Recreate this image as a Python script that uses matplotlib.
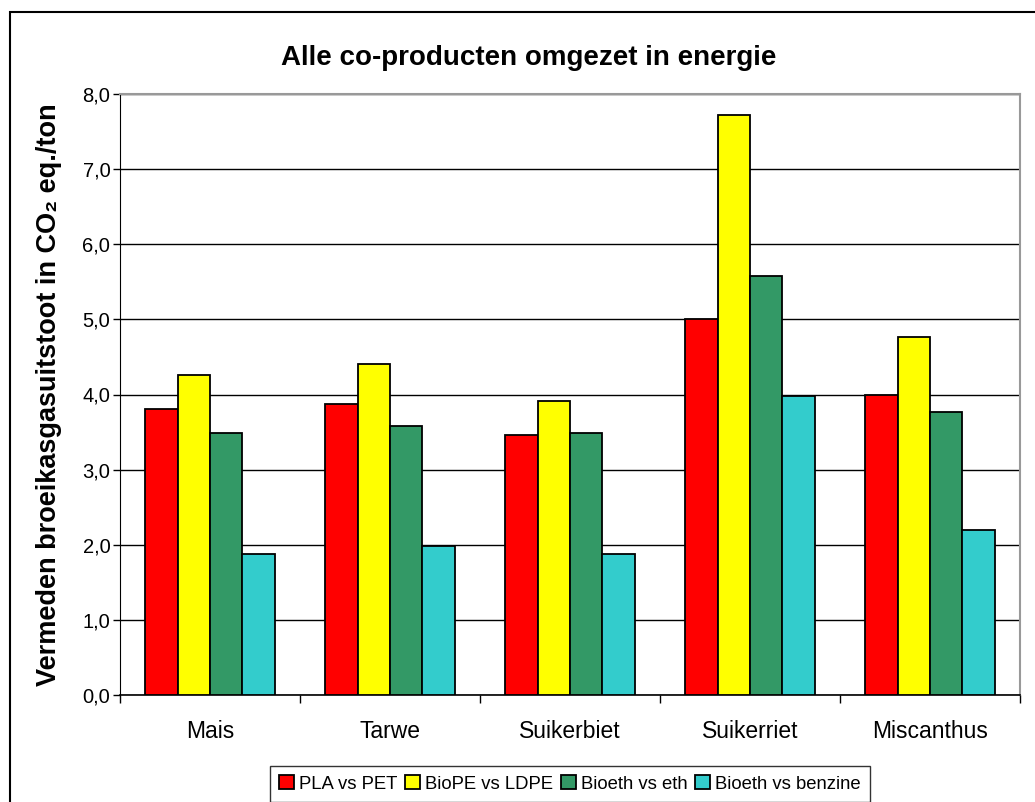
import numpy as np
import matplotlib.pyplot as plt
from matplotlib.patches import Rectangle

plt.rcParams['font.family'] = ['Liberation Sans', 'DejaVu Sans']

categories = ['Mais', 'Tarwe', 'Suikerbiet', 'Suikerriet', 'Miscanthus']
series_names = ['PLA vs PET', 'BioPE vs LDPE', 'Bioeth vs eth', 'Bioeth vs benzine']
pla_vs_pet = [3.81, 3.88, 3.46, 5.01, 4.00]
biope_vs_ldpe = [4.26, 4.40, 3.91, 7.72, 4.76]
bioeth_vs_eth = [3.49, 3.58, 3.49, 5.58, 3.77]
bioeth_vs_benzine = [1.88, 1.98, 1.88, 3.98, 2.19]
colors = ['#ff0000', '#ffff00', '#339966', '#33cccc']

series = [pla_vs_pet, biope_vs_ldpe, bioeth_vs_eth, bioeth_vs_benzine]

fig = plt.figure(figsize=(10.35, 8.02), dpi=100)
ax = fig.add_axes([120/1035, 1-695/802, 900/1035, 601/802])

x = np.arange(len(categories))
w = 0.72 / 4
for i, (vals, name, c) in enumerate(zip(series, series_names, colors)):
    ax.bar(x - 0.36 + w*(i + 0.5), vals, w, color=c, edgecolor='black',
           linewidth=1.3, label=name, zorder=3)

ax.set_xlim(-0.5, len(categories) - 0.5)
ax.set_ylim(0, 8)
ax.set_yticks(np.arange(0, 8.1, 1))
ax.set_yticklabels([f'{v:.1f}'.replace('.', ',') for v in np.arange(0, 8.1, 1)], fontsize=14.5)
ax.yaxis.grid(True, color='black', linewidth=1, zorder=0)
ax.set_axisbelow(True)

ax.set_xticks(x)
ax.set_xticklabels(categories, fontsize=16.5)
ax.tick_params(axis='x', length=0, pad=18)
ax.set_xticks(np.arange(-0.5, len(categories)), minor=True)
ax.tick_params(axis='x', which='minor', length=6, width=1, direction='out')
ax.tick_params(axis='y', length=5, width=1, direction='out', pad=2)

for side in ['top', 'right']:
    ax.spines[side].set_color('#999999')
    ax.spines[side].set_linewidth(1.5)
ax.spines['left'].set_color('black')
ax.spines['bottom'].set_color('black')
ax.spines['bottom'].set_linewidth(1.2)

ax.set_ylabel('Vermeden broeikasgasuitstoot in CO\u2082 eq./ton', fontsize=19.5,
              fontweight='bold')
ax.yaxis.set_label_coords(-0.064, 0.5)
fig.text(529/1035, 1-58/802, 'Alle co-producten omgezet in energie', fontsize=20,
         fontweight='bold', ha='center', va='center')

leg = ax.legend(loc='lower center', bbox_to_anchor=(570/1035, 0.0),
                bbox_transform=fig.transFigure, ncol=4, fontsize=13.3,
                frameon=True, fancybox=False, edgecolor='black',
                handlelength=0.8, handleheight=0.8, handletextpad=0.3,
                columnspacing=0.4, borderpad=0.5, borderaxespad=0)
leg.get_frame().set_linewidth(1)

fig.patches.append(Rectangle((10/1035, -0.1), 1.2, 1.1 - 12/802,
                             transform=fig.transFigure, fill=False,
                             edgecolor='black', linewidth=1.5))

fig.savefig('out.png', dpi=100)
